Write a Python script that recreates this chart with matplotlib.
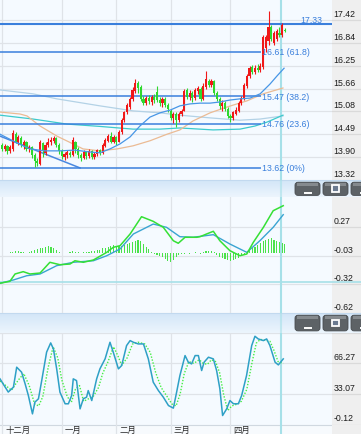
import numpy as np
import matplotlib.pyplot as plt
from matplotlib.patches import FancyBboxPatch, Rectangle
from matplotlib.colors import LinearSegmentedColormap

W, H = 361, 435
PLOT_R = 332          # right edge of plotting area (px)
BG = '#f5faff'
LAB_BG = '#efefef'
GRID = '#dfe3e8'

# ---- data ----
months = ['十二月', '一月', '二月', '三月', '四月']
month_idx = [0, 22, 42, 62, 84]

opens = [14.20, 14.12, 14.18, 14.05, 14.10, 14.50, 14.30, 14.40, 14.22, 14.28,
         14.10, 14.15, 13.95, 13.80, 13.72, 14.25, 14.00, 14.20, 14.28, 14.32,
         14.40, 14.20, 14.05, 13.90, 13.95, 14.00, 13.95, 14.30, 14.10, 13.95,
         13.88, 14.02, 13.92, 14.05, 13.90, 13.98, 14.08, 14.00, 14.18, 14.32,
         14.45, 14.30, 14.42, 14.30, 14.55, 14.85, 15.05, 15.20, 15.40, 15.60,
         15.80, 15.70, 15.40, 15.30, 15.42, 15.32, 15.45, 15.58, 15.38, 15.30,
         15.40, 15.25, 15.10, 14.90, 15.00, 14.85, 15.00, 15.10, 15.62, 15.45,
         15.55, 15.42, 15.60, 15.65, 15.40, 15.70, 15.85, 15.75, 15.85, 15.55,
         15.40, 15.22, 15.30, 15.15, 14.95, 14.90, 15.02, 15.10, 15.30, 15.40,
         15.72, 16.00, 16.22, 16.10, 16.20, 16.15, 16.22, 16.70, 16.90, 17.25,
         16.85, 16.95, 17.10, 17.05, 17.18]
closes = [14.12, 14.18, 14.05, 14.15, 14.52, 14.30, 14.42, 14.22, 14.30, 14.10,
          14.15, 13.95, 13.80, 13.75, 14.30, 14.05, 14.22, 14.30, 14.35, 14.40,
          14.22, 14.05, 13.92, 13.98, 14.02, 13.95, 14.35, 14.10, 13.95, 13.88,
          14.02, 13.92, 14.05, 13.90, 13.98, 14.08, 14.00, 14.20, 14.35, 14.45,
          14.30, 14.42, 14.28, 14.55, 14.85, 15.05, 15.25, 15.40, 15.62, 15.80,
          15.68, 15.40, 15.30, 15.42, 15.35, 15.45, 15.38, 15.38, 15.30, 15.40,
          15.25, 15.15, 14.90, 15.00, 14.85, 15.00, 15.10, 15.60, 15.45, 15.55,
          15.42, 15.62, 15.68, 15.40, 15.72, 15.90, 15.75, 15.85, 15.55, 15.40,
          15.22, 15.30, 15.15, 14.95, 14.90, 15.05, 15.12, 15.30, 15.42, 15.75,
          16.00, 16.20, 16.10, 16.20, 16.15, 16.25, 17.00, 17.00, 17.25, 16.95,
          17.10, 17.15, 17.05, 17.30, 17.15]
highs = [14.25, 14.24, 14.22, 14.20, 14.60, 14.55, 14.48, 14.45, 14.35, 14.32,
         14.22, 14.18, 14.00, 13.88, 14.35, 14.30, 14.28, 14.38, 14.42, 14.45,
         14.42, 14.25, 14.10, 14.02, 14.08, 14.06, 14.42, 14.32, 14.15, 14.00,
         14.08, 14.05, 14.10, 14.08, 14.03, 14.12, 14.12, 14.25, 14.40, 14.50,
         14.55, 14.48, 14.45, 14.60, 14.90, 15.10, 15.30, 15.45, 15.70, 15.92,
         15.85, 15.75, 15.48, 15.48, 15.50, 15.50, 15.52, 15.72, 15.45, 15.45,
         15.45, 15.30, 15.15, 15.05, 15.05, 15.05, 15.15, 15.65, 15.68, 15.62,
         15.60, 15.68, 15.72, 15.70, 15.80, 16.12, 15.92, 15.90, 15.88, 15.60,
         15.45, 15.36, 15.35, 15.20, 15.00, 15.10, 15.18, 15.35, 15.48, 15.80,
         16.05, 16.25, 16.28, 16.28, 16.30, 16.32, 17.05, 17.05, 17.66, 17.30,
         17.15, 17.20, 17.25, 17.36, 17.22]
lows = [14.05, 14.05, 13.98, 14.00, 14.05, 14.25, 14.20, 14.15, 14.12, 14.05,
        14.02, 13.88, 13.65, 13.66, 13.70, 13.90, 13.95, 14.15, 14.22, 14.25,
        14.15, 13.98, 13.85, 13.82, 13.88, 13.90, 13.92, 14.00, 13.88, 13.80,
        13.85, 13.86, 13.88, 13.84, 13.85, 13.92, 13.95, 13.98, 14.15, 14.28,
        14.25, 14.26, 14.22, 14.28, 14.50, 14.80, 15.00, 15.15, 15.35, 15.55,
        15.55, 15.35, 15.25, 15.25, 15.28, 15.25, 15.30, 15.32, 15.22, 15.20,
        15.18, 15.05, 14.85, 14.78, 14.67, 14.80, 14.95, 15.08, 15.40, 15.38,
        15.32, 15.38, 15.52, 15.35, 15.38, 15.65, 15.70, 15.70, 15.50, 15.35,
        15.15, 15.10, 15.08, 14.90, 14.80, 14.85, 14.98, 15.05, 15.25, 15.38,
        15.68, 15.95, 16.05, 16.05, 16.08, 16.10, 16.18, 16.62, 16.80, 16.90,
        16.80, 16.90, 17.00, 17.00, 17.12]

# moving averages, sampled (candle index, price)
ma_blue_x = [-0.74, 4.8, 10.3, 15.8, 21.3, 26.8, 32.4, 36.0, 39.7, 43.4, 47.1, 50.7, 54.4,
             58.1, 61.8, 65.4, 69.1, 72.8, 76.5, 80.1, 83.8, 87.5, 91.2, 94.9, 98.5, 101.1, 103.7]
ma_blue_y = [14.49, 14.29, 14.11, 14.06, 14.06, 14.08, 14.03, 14.01, 14.11, 14.24, 14.42, 14.70, 14.93,
             15.04, 15.11, 15.22, 15.27, 15.29, 15.29, 15.32, 15.37, 15.40, 15.42, 15.53, 15.78, 15.99, 16.19]
ma_tan_x = [-0.74, 6.6, 9.2, 14.0, 20.2, 26.1, 29.8, 36.0, 42.3, 48.2, 54.4, 60.7, 65.4,
            70.2, 76.5, 82.7, 90.1, 96.0, 103.3]
ma_tan_y = [15.06, 15.01, 14.96, 14.70, 14.44, 14.24, 14.11, 14.06, 14.11, 14.19, 14.32, 14.49, 14.60,
            14.83, 15.04, 15.19, 15.35, 15.53, 15.68]
ma_cyan_x = [-0.74, 11.4, 23.9, 36.0, 48.2, 58.1, 65.4, 77.6, 87.5, 93.0, 97.4, 103.3]
ma_cyan_y = [14.98, 14.88, 14.75, 14.69, 14.62, 14.62, 14.65, 14.60, 14.62, 14.70, 14.80, 14.98]
ma_light_x = [-0.74, 11.4, 20.2, 36.0, 48.2, 58.1, 65.4, 76.5, 87.5, 94.9, 103.3]
ma_light_y = [15.63, 15.53, 15.40, 15.22, 15.09, 15.04, 14.98, 14.91, 14.85, 14.88, 14.96]
trend_x = [-0.74, 28.7]
trend_y = [14.44, 13.62]

fib_levels = [16.61, 15.47, 14.76, 13.62]
fib_labels = ['16.61 (61.8)', '15.47 (38.2)', '14.76 (23.6)', '13.62 (0%)']
fib_top = 17.33

price_ticks = [17.42, 16.84, 16.25, 15.66, 15.08, 14.49, 13.90, 13.32]
macd_ticks = [0.27, -0.03, -0.32, -0.62]
kdj_ticks = [99.47, 66.27, 33.07, -0.12]

dif_x = [-0.74, 2.9, 4.8, 7.8, 10.3, 14.0, 17.6, 21.3, 25.0, 26.8, 29.9, 33.6, 38.5, 40.9, 43.4,
         47.1, 51.3, 55.6, 59.3, 63.0, 64.8, 67.3, 71.6, 72.8, 75.2, 77.7, 80.1, 83.8, 87.5,
         90.0, 92.4, 96.1, 99.7, 103.4]
dif_y = [-0.31, -0.29, -0.214, -0.19, -0.214, -0.204, -0.093, -0.118, -0.111, -0.077, -0.093,
         -0.069, 0.01, 0.062, 0.079, 0.20, 0.379, 0.331, 0.269, 0.13, 0.104, 0.166, 0.166,
         0.172, 0.20, 0.228, 0.13, 0.027, -0.025, -0.007, 0.114, 0.269, 0.441, 0.493]
dea_x = [-0.74, 4.2, 9.1, 14.0, 20.1, 26.2, 33.6, 38.5, 43.4, 48.3, 55.6, 60.5, 65.4, 70.3,
         77.7, 83.8, 90.0, 94.8, 99.7, 103.4]
dea_y = [-0.31, -0.276, -0.232, -0.214, -0.128, -0.093, -0.077, -0.025, 0.045, 0.20, 0.303,
         0.269, 0.172, 0.166, 0.193, 0.096, 0.01, 0.13, 0.269, 0.40]
macd_hist = [0.005, 0.005, 0.008, 0.01, 0.015, 0.02, 0.02, 0.015, 0.01, 0.005,
             0.01, 0.02, 0.03, 0.04, 0.05, 0.06, 0.07, 0.075, 0.07, 0.05,
             0.03, 0.015, 0.005, 0.003, 0.005, 0.01, 0.02, 0.015, 0.01, 0.008,
             0.01, 0.012, 0.015, 0.02, 0.025, 0.03, 0.035, 0.05, 0.06, 0.07,
             0.08, 0.085, 0.08, 0.075, 0.08, 0.09, 0.10, 0.11, 0.12, 0.13,
             0.14, 0.13, 0.10, 0.07, 0.04, 0.01, -0.01, -0.02, -0.03, -0.04,
             -0.06, -0.08, -0.095, -0.07, -0.04, -0.02, -0.01, -0.005, 0.005, -0.005,
             0.005, 0.01, 0.005, -0.005, 0.01, 0.02, 0.025, 0.02, 0.01, -0.02,
             -0.04, -0.05, -0.06, -0.07, -0.08, -0.07, -0.06, -0.05, -0.03, -0.01,
             0.01, 0.03, 0.05, 0.07, 0.09, 0.11, 0.13, 0.14, 0.15, 0.155,
             0.14, 0.13, 0.12, 0.11, 0.10]

k_x = [-0.74, 2.3, 4.2, 5.4, 7.2, 8.5, 9.7, 11.2, 12.1, 13.4, 14.6, 16.4, 17.9, 18.9, 20.1,
       21.3, 23.2, 24.4, 25.6, 26.2, 27.4, 28.7, 29.9, 31.1, 31.7, 33.0, 34.8, 36.0, 37.9,
       39.7, 40.9, 42.8, 44.0, 45.8, 47.1, 48.3, 50.1, 52.0, 53.8, 55.6, 57.5, 59.3, 61.2,
       63.0, 64.2, 65.4, 67.3, 68.5, 69.7, 71.0, 72.2, 73.4, 74.3, 75.9, 77.7, 78.9, 80.1,
       81.1, 82.6, 83.8, 85.1, 86.9, 88.1, 89.9, 91.8, 93.0, 94.2, 96.1, 97.3, 98.5, 100.4,
       101.6, 103.4]
k_y = [49.3, 35.0, 40.3, 61.9, 56.5, 43.9, 31.2, 11.4, 24.1, 27.7, 47.4, 78.2, 88.2, 81.7, 60.1,
       34.9, 22.3, 22.3, 31.2, 49.3, 47.4, 16.8, 27.7, 29.5, 36.6, 25.8, 49.3, 60.1, 70.9,
       88.9, 78.2, 60.1, 63.7, 85.3, 90.7, 88.9, 87.1, 87.1, 70.9, 45.7, 36.6, 29.5, 20.4,
       17.6, 34.9, 52.8, 74.5, 67.3, 65.5, 74.5, 74.5, 58.3, 67.3, 72.7, 70.9, 58.3, 38.5,
       9.6, 16.8, 25.8, 22.3, 22.3, 31.2, 52.8, 85.3, 95.4, 92.5, 90.7, 92.5, 85.3, 67.3,
       64.4, 70.9]
d_x = [-0.74, 3.5, 6.0, 8.0, 10.0, 12.0, 13.5, 15.0, 17.0, 18.8, 20.5, 22.0, 24.0, 25.5, 27.0,
       28.5, 30.0, 32.0, 33.5, 35.5, 37.0, 39.0, 41.0, 42.5, 44.0, 46.0, 48.0, 50.0, 52.5,
       54.5, 56.5, 58.5, 60.5, 62.5, 64.0, 65.5, 67.0, 68.7, 70.5, 72.5, 74.0, 75.5, 77.0,
       78.5, 80.0, 81.5, 83.0, 84.5, 86.5, 88.0, 90.0, 92.0, 93.5, 95.0, 97.0, 98.5, 100.0,
       101.5, 103.4]
d_y = [47, 37, 48, 55, 42, 22, 20, 30, 62, 84, 72, 48, 30, 24, 38,
       42, 25, 28, 30, 40, 55, 68, 84, 75, 64, 72, 87, 89, 87,
       78, 56, 40, 31, 22, 20, 33, 55, 68, 66, 70, 66, 65, 70,
       68, 56, 32, 15, 20, 22, 25, 38, 68, 88, 92, 91, 90, 80,
       68, 66]

CURSOR = 102.6
XLIM = ((0 - 2) / 2.72, (PLOT_R - 2) / 2.72)

plt.rcParams['font.family'] = ['Liberation Sans', 'DejaVu Sans']
NUM_FONT = dict(fontsize=6.3, color='#1c1c1c')
FIB_C = '#3a7fdc'


fig = plt.figure(figsize=(W / 100, H / 100), dpi=100)
fig.patch.set_facecolor(BG)


def px_axes(x0, y0, x1, y1, **kw):
    return fig.add_axes([x0 / W, 1 - y1 / H, (x1 - x0) / W, (y1 - y0) / H], **kw)


def clean(a):
    for s in a.spines.values():
        s.set_visible(False)
    a.set_xticks([])
    a.set_yticks([])


def panel(y0, y1, ylim, ticks, skip_top=False):
    ax = px_axes(0, y0, PLOT_R, y1)
    lab = px_axes(PLOT_R, y0, W, y1)
    ax.set_facecolor(BG)
    lab.set_facecolor(LAB_BG)
    ax.set_xlim(XLIM)
    ax.set_ylim(ylim)
    lab.set_xlim(0, 1)
    lab.set_ylim(ylim)
    clean(ax)
    clean(lab)
    for n, t in enumerate(ticks):
        ax.axhline(t, color=GRID, lw=0.9, zorder=0)
        lab.axhline(t, color='#dadada', lw=0.9)
        if skip_top and n == 0:
            continue
        lab.annotate(f'{t:.2f}', xy=(0.06, t), xytext=(0, 6.5), textcoords='offset pixels',
                     ha='left', va='center', **NUM_FONT)
    for m in month_idx:
        ax.axvline(m, color=GRID, lw=0.9, zorder=0)
    ax.axvline(CURSOR, color='#a6e0e8', lw=1.5, zorder=1)
    return ax, lab


def separator(y0, y1):
    h = y1 - y0
    ax = px_axes(0, y0, W, y1)
    ax.set_xlim(0, W)
    ax.set_ylim(h, 0)
    cmap = LinearSegmentedColormap.from_list('bar', ['#d3e6f8', '#ecf5fd'])
    ax.imshow(np.linspace(0, 1, 32).reshape(-1, 1), aspect='auto', cmap=cmap,
              extent=(0, W, h, 0))
    ax.axhline(0.3, color='#c2d9ef', lw=0.8)
    ax.plot([2 + 2.72 * CURSOR] * 2, [0, h], color='#a6e0e8', lw=1.5, alpha=0.6)
    for bx0, bx1, icon in [(295, 320, 'min'), (323, 348, 'max'), (351, 376, 'min')]:
        ax.add_patch(FancyBboxPatch((bx0, 2.2), bx1 - bx0, h - 3.8,
                                    boxstyle='round,pad=0,rounding_size=3',
                                    fc='#5d6266', ec='#484c50', lw=0.6))
        ax.add_patch(Rectangle((bx0 + 2, 2.6), bx1 - bx0 - 4, 3, fc='#858a8e', ec='none'))
        cx = (bx0 + bx1) / 2
        if icon == 'min':
            ax.plot([cx - 3, cx + 3], [h - 4.2, h - 4.2], color='white', lw=1.4)
        else:
            ax.add_patch(Rectangle((cx - 3.5, h / 2 - 3.2), 7, 6.6, fc='#6b7a90',
                                   ec='white', lw=1.3))
    ax.axis('off')
    return ax


# ---- main price panel ----
ax1, lab1 = panel(0, 181, (13.309, 17.974), price_ticks)
idx = np.arange(len(closes))
o = np.array(opens)
c = np.array(closes)
up = c >= o
col = np.where(up, '#f01818', '#2ed82e')
ax1.vlines(idx, lows, highs, colors=col, lw=0.8, zorder=3)
ax1.bar(idx, np.maximum(np.abs(c - o), 0.015), bottom=np.minimum(o, c), width=0.78,
        color=col, lw=0, zorder=4)

ax1.plot(ma_light_x, ma_light_y, color='#b3d2e6', lw=0.9, zorder=2)
ax1.plot(ma_cyan_x, ma_cyan_y, color='#3ccacc', lw=0.9, zorder=2)
ax1.plot(ma_tan_x, ma_tan_y, color='#ebbb94', lw=0.9, zorder=2)
ax1.plot(ma_blue_x, ma_blue_y, color='#4796e6', lw=0.9, zorder=5)
ax1.plot(trend_x, trend_y, color='#4a88e0', lw=1.1, zorder=2)

fib_end = (261 - 2) / 2.72
ax1.axhline(fib_top, color=FIB_C, lw=1.5, zorder=2)
ax1.text((311 - 2) / 2.72, fib_top, f'{fib_top:.2f}', ha='center', va='bottom',
         fontsize=6.3, color=FIB_C, zorder=6)
for lv, tx in zip(fib_levels, fib_labels):
    ax1.hlines(lv, XLIM[0], fib_end, color=FIB_C, lw=1.1, zorder=2)
    ax1.text(fib_end + 0.4, lv, tx, ha='left', va='center', fontsize=6.3,
             color=FIB_C, zorder=6)

separator(181, 198)

# ---- MACD panel ----
ax2, lab2 = panel(198, 314, (-0.618, 0.583), macd_ticks)
ax2.bar(idx, macd_hist, width=0.4, color='#4ae24a', lw=0, zorder=2)
ax2.plot(dea_x, dea_y, color='#3aa4d2', lw=1.0, zorder=3)
ax2.plot(dif_x, dif_y, color='#35e035', lw=1.1, zorder=4)
ax2.axhline(-0.297, color='#a6e0e8', lw=1.2, zorder=1)
lab2.axhline(-0.297, color='#a6e0e8', lw=1.2)

# ---- stochastic panel ----
ax3, lab3 = panel(333.5, 425.5, (-0.12, 99.47), kdj_ticks, skip_top=True)
ax3.plot(d_x, d_y, color='#45ee45', lw=1.0, ls=(0, (1, 1.2)), zorder=3)
ax3.plot(k_x, k_y, color='#2ea0c6', lw=1.1, zorder=4)

separator(314, 333.5)

# ---- month axis ----
axm = px_axes(0, 425.5, PLOT_R, H)
labm = px_axes(PLOT_R, 425.5, W, H)
axm.set_facecolor('#f7fafd')
labm.set_facecolor(LAB_BG)
clean(axm)
clean(labm)
axm.set_xlim(XLIM)
axm.set_ylim(0, 1)
axm.axhline(1, color='#d0d8e0', lw=0.8)
for m, name in zip(month_idx, months):
    axm.axvline(m, color=GRID, lw=0.9)
    axm.annotate(name, xy=(m, 0.45), xytext=(3, 0), textcoords='offset pixels',
                 ha='left', va='center', fontsize=6, color='#2a2a2a',
                 family=['Noto Sans CJK SC', 'DejaVu Sans'])
axm.axvline(CURSOR, color='#a6e0e8', lw=1.5)

fig.savefig('out.png', dpi=100, facecolor=fig.get_facecolor())
